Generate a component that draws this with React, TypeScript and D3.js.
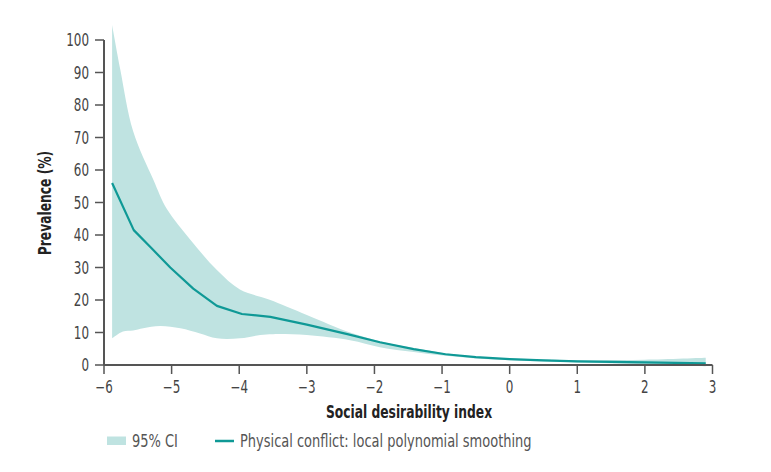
import React from "react";
import * as d3 from "d3";

const xTicks = [-6, -5, -4, -3, -2, -1, 0, 1, 2, 3];
const yTicks = [0, 10, 20, 30, 40, 50, 60, 70, 80, 90, 100];

const lineX = [-5.88, -5.56, -5.3, -5.02, -4.68, -4.33, -3.96, -3.54, -3.0, -2.4, -1.92, -1.42, -0.95, -0.5, 0, 0.5, 1, 2, 2.9];
const lineY = [56, 41.5, 36, 30, 23.5, 18.2, 15.7, 14.8, 12.4, 9.5, 7.0, 4.9, 3.3, 2.4, 1.8, 1.4, 1.1, 0.8, 0.5];

const upperX = [-5.88, -5.76, -5.57, -5.27, -5.07, -4.72, -4.33, -3.99, -3.69, -3.54, -3.0, -2.36, -1.92, -1.42, -0.98, -0.5, 0, 0.5, 1, 2, 2.9];
const upperY = [104.6, 91, 72, 57, 48, 38.5, 29.2, 23.2, 21, 20, 15.4, 10, 7.3, 5.2, 3.7, 2.6, 2.0, 1.7, 1.5, 1.6, 2.2];

const lowerX = [-5.88, -5.72, -5.57, -5.42, -5.17, -4.87, -4.58, -4.33, -3.99, -3.69, -3.5, -3.0, -2.36, -1.92, -1.42, -0.98, -0.5, 0, 0.5, 1, 2, 2.9];
const lowerY = [8.2, 10.3, 10.6, 11.3, 12, 11.3, 9.7, 8.2, 8.2, 9.2, 9.5, 9.2, 7.6, 5.5, 4.0, 2.9, 2.0, 1.5, 1.1, 0.8, 0.3, -0.4];

const FONT = "'DejaVu Sans Condensed', 'Liberation Sans Narrow', sans-serif";
const BAND = "#bfe3e1";
const LINE = "#0f9996";
const AXIS = "#555";

type TProps = {
  x: number;
  y: number;
  sx: number;
  rotate?: number;
  anchor?: "start" | "middle" | "end";
  size: number;
  weight?: string;
  fill: string;
  dy?: string;
  children: React.ReactNode;
};

function T({ x, y, sx, rotate = 0, anchor = "start", size, weight = "normal", fill, dy, children }: TProps) {
  return (
    <g transform={`translate(${x},${y}) rotate(${rotate}) scale(${sx},1)`}>
      <text x={0} y={0} dy={dy} textAnchor={anchor} fontFamily={FONT} fontSize={size} fontWeight={weight} fill={fill}>
        {children}
      </text>
    </g>
  );
}

export default function App() {
  const x = d3.scaleLinear().domain([-6, 3]).range([104, 712.5]);
  const y = d3.scaleLinear().domain([0, 100]).range([365, 40]);

  const edge = d3.line<[number, number]>().curve(d3.curveCatmullRom.alpha(0.5));
  const upperPts: [number, number][] = upperX.map((v, i) => [x(v), y(upperY[i])] as [number, number]);
  const lowerPts: [number, number][] = lowerX.map((v, i) => [x(v), y(lowerY[i])] as [number, number]).reverse();
  const upperD = edge(upperPts) as string;
  const lowerD = (edge(lowerPts) as string).replace(/^M/, "L");
  const bandPath = upperD + lowerD + "Z";

  const linePath = d3
    .line<number>()
    .x((d) => x(d))
    .y((_, i) => y(lineY[i]))
    .curve(d3.curveLinear)(lineX) as string;

  return (
    <svg width={771} height={472} style={{ position: "absolute", left: 0, top: 0, background: "#fff" }}>
      <path d={bandPath} fill={BAND} stroke="none" />
      <path d={linePath} fill="none" stroke={LINE} strokeWidth={2.2} strokeLinejoin="round" />

      {/* Y axis */}
      <line x1={x(-6)} x2={x(-6)} y1={y(100)} y2={y(0)} stroke={AXIS} strokeWidth={2} />
      {yTicks.map((t) => (
        <g key={"y" + t}>
          <line x1={x(-6) - 9} x2={x(-6)} y1={y(t)} y2={y(t)} stroke={AXIS} strokeWidth={1.5} />
          <T x={x(-6) - 15} y={y(t)} dy="0.36em" sx={0.78} anchor="end" size={17} fill="#444">
            {t}
          </T>
        </g>
      ))}

      {/* X axis */}
      <line x1={x(-6)} x2={x(3)} y1={y(0)} y2={y(0)} stroke={AXIS} strokeWidth={2} />
      {xTicks.map((t) => (
        <g key={"x" + t}>
          <line x1={x(t)} x2={x(t)} y1={y(0)} y2={y(0) + 9} stroke={AXIS} strokeWidth={1.5} />
          <T x={x(t)} y={y(0) + 28} sx={0.78} anchor="middle" size={17} fill="#444">
            {t < 0 ? "\u2212" + Math.abs(t) : String(t)}
          </T>
        </g>
      ))}

      <T x={409} y={418} sx={0.76} anchor="middle" size={18} weight="bold" fill="#222">
        Social desirability index
      </T>
      <T x={51} y={203} rotate={-90} sx={0.76} anchor="middle" size={18} weight="bold" fill="#222">
        Prevalence (%)
      </T>

      {/* Legend */}
      <rect x={107} y={436.5} width={19} height={8.5} fill={BAND} />
      <T x={132} y={446.5} sx={0.85} size={17} fill="#555">
        95% CI
      </T>
      <line x1={215} x2={234} y1={441} y2={441} stroke={LINE} strokeWidth={2.5} />
      <T x={240} y={446.5} sx={0.85} size={17} fill="#555">
        Physical conflict: local polynomial smoothing
      </T>
    </svg>
  );
}
